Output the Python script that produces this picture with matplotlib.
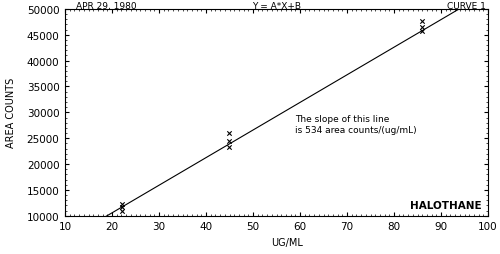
import matplotlib
matplotlib.use("Agg")
import matplotlib.pyplot as plt
import numpy as np
from matplotlib.ticker import MultipleLocator

# data
conc_x = [22.2, 22.2, 22.2, 44.9, 44.9, 44.9, 86.0, 86.0, 86.0]
area_y = [12200, 11600, 11000, 26100, 24400, 23300, 47600, 46600, 45700]
slope = 534
intercept = -120
line_x = [10, 100]
x_ticks = [10, 20, 30, 40, 50, 60, 70, 80, 90, 100]
y_ticks = [10000, 15000, 20000, 25000, 30000, 35000, 40000, 45000, 50000]

fig = plt.figure(figsize=(5, 2.55), dpi=100)
ax = fig.add_axes([0.13, 0.15, 0.846, 0.811])

lx = np.array(line_x, dtype=float)
ax.plot(lx, slope * lx + intercept, color="black", lw=0.8)
ax.scatter(conc_x, area_y, marker="x", s=10, color="black", lw=0.8)

ax.set_xlim(10, 100)
ax.set_ylim(10000, 50000)
ax.set_xticks(x_ticks)
ax.set_yticks(y_ticks)
ax.xaxis.set_minor_locator(MultipleLocator(1))
ax.yaxis.set_minor_locator(MultipleLocator(1000))
ax.tick_params(which="both", direction="in", top=True, right=True, labelsize=7.5, color="black")
ax.tick_params(which="major", length=3, width=0.8, pad=4)
ax.tick_params(which="minor", length=1.5, width=0.5)
for s in ax.spines.values():
    s.set_linewidth(0.8)

ax.set_xlabel("UG/ML", fontsize=7)
ax.xaxis.set_label_coords(0.525, -0.125)
ax.xaxis.label.set_va("center")
ax.set_ylabel("AREA COUNTS", fontsize=7, labelpad=8)

ax.text(0.025, 0.995, "APR 29, 1980", transform=ax.transAxes, fontsize=6.5, ha="left", va="bottom")
ax.text(0.5, 0.995, "Y = A*X+B", transform=ax.transAxes, fontsize=6.5, ha="center", va="bottom")
ax.text(0.995, 0.995, "CURVE 1", transform=ax.transAxes, fontsize=6.5, ha="right", va="bottom")
ax.text(0.985, 0.03, "HALOTHANE", transform=ax.transAxes, fontsize=7.5, fontweight="bold", ha="right", va="bottom")
ax.text(59, 27700, "The slope of this line\nis 534 area counts/(ug/mL)", fontsize=6.5, ha="left", va="center", linespacing=1.3)

fig.savefig("out.png", dpi=100)
